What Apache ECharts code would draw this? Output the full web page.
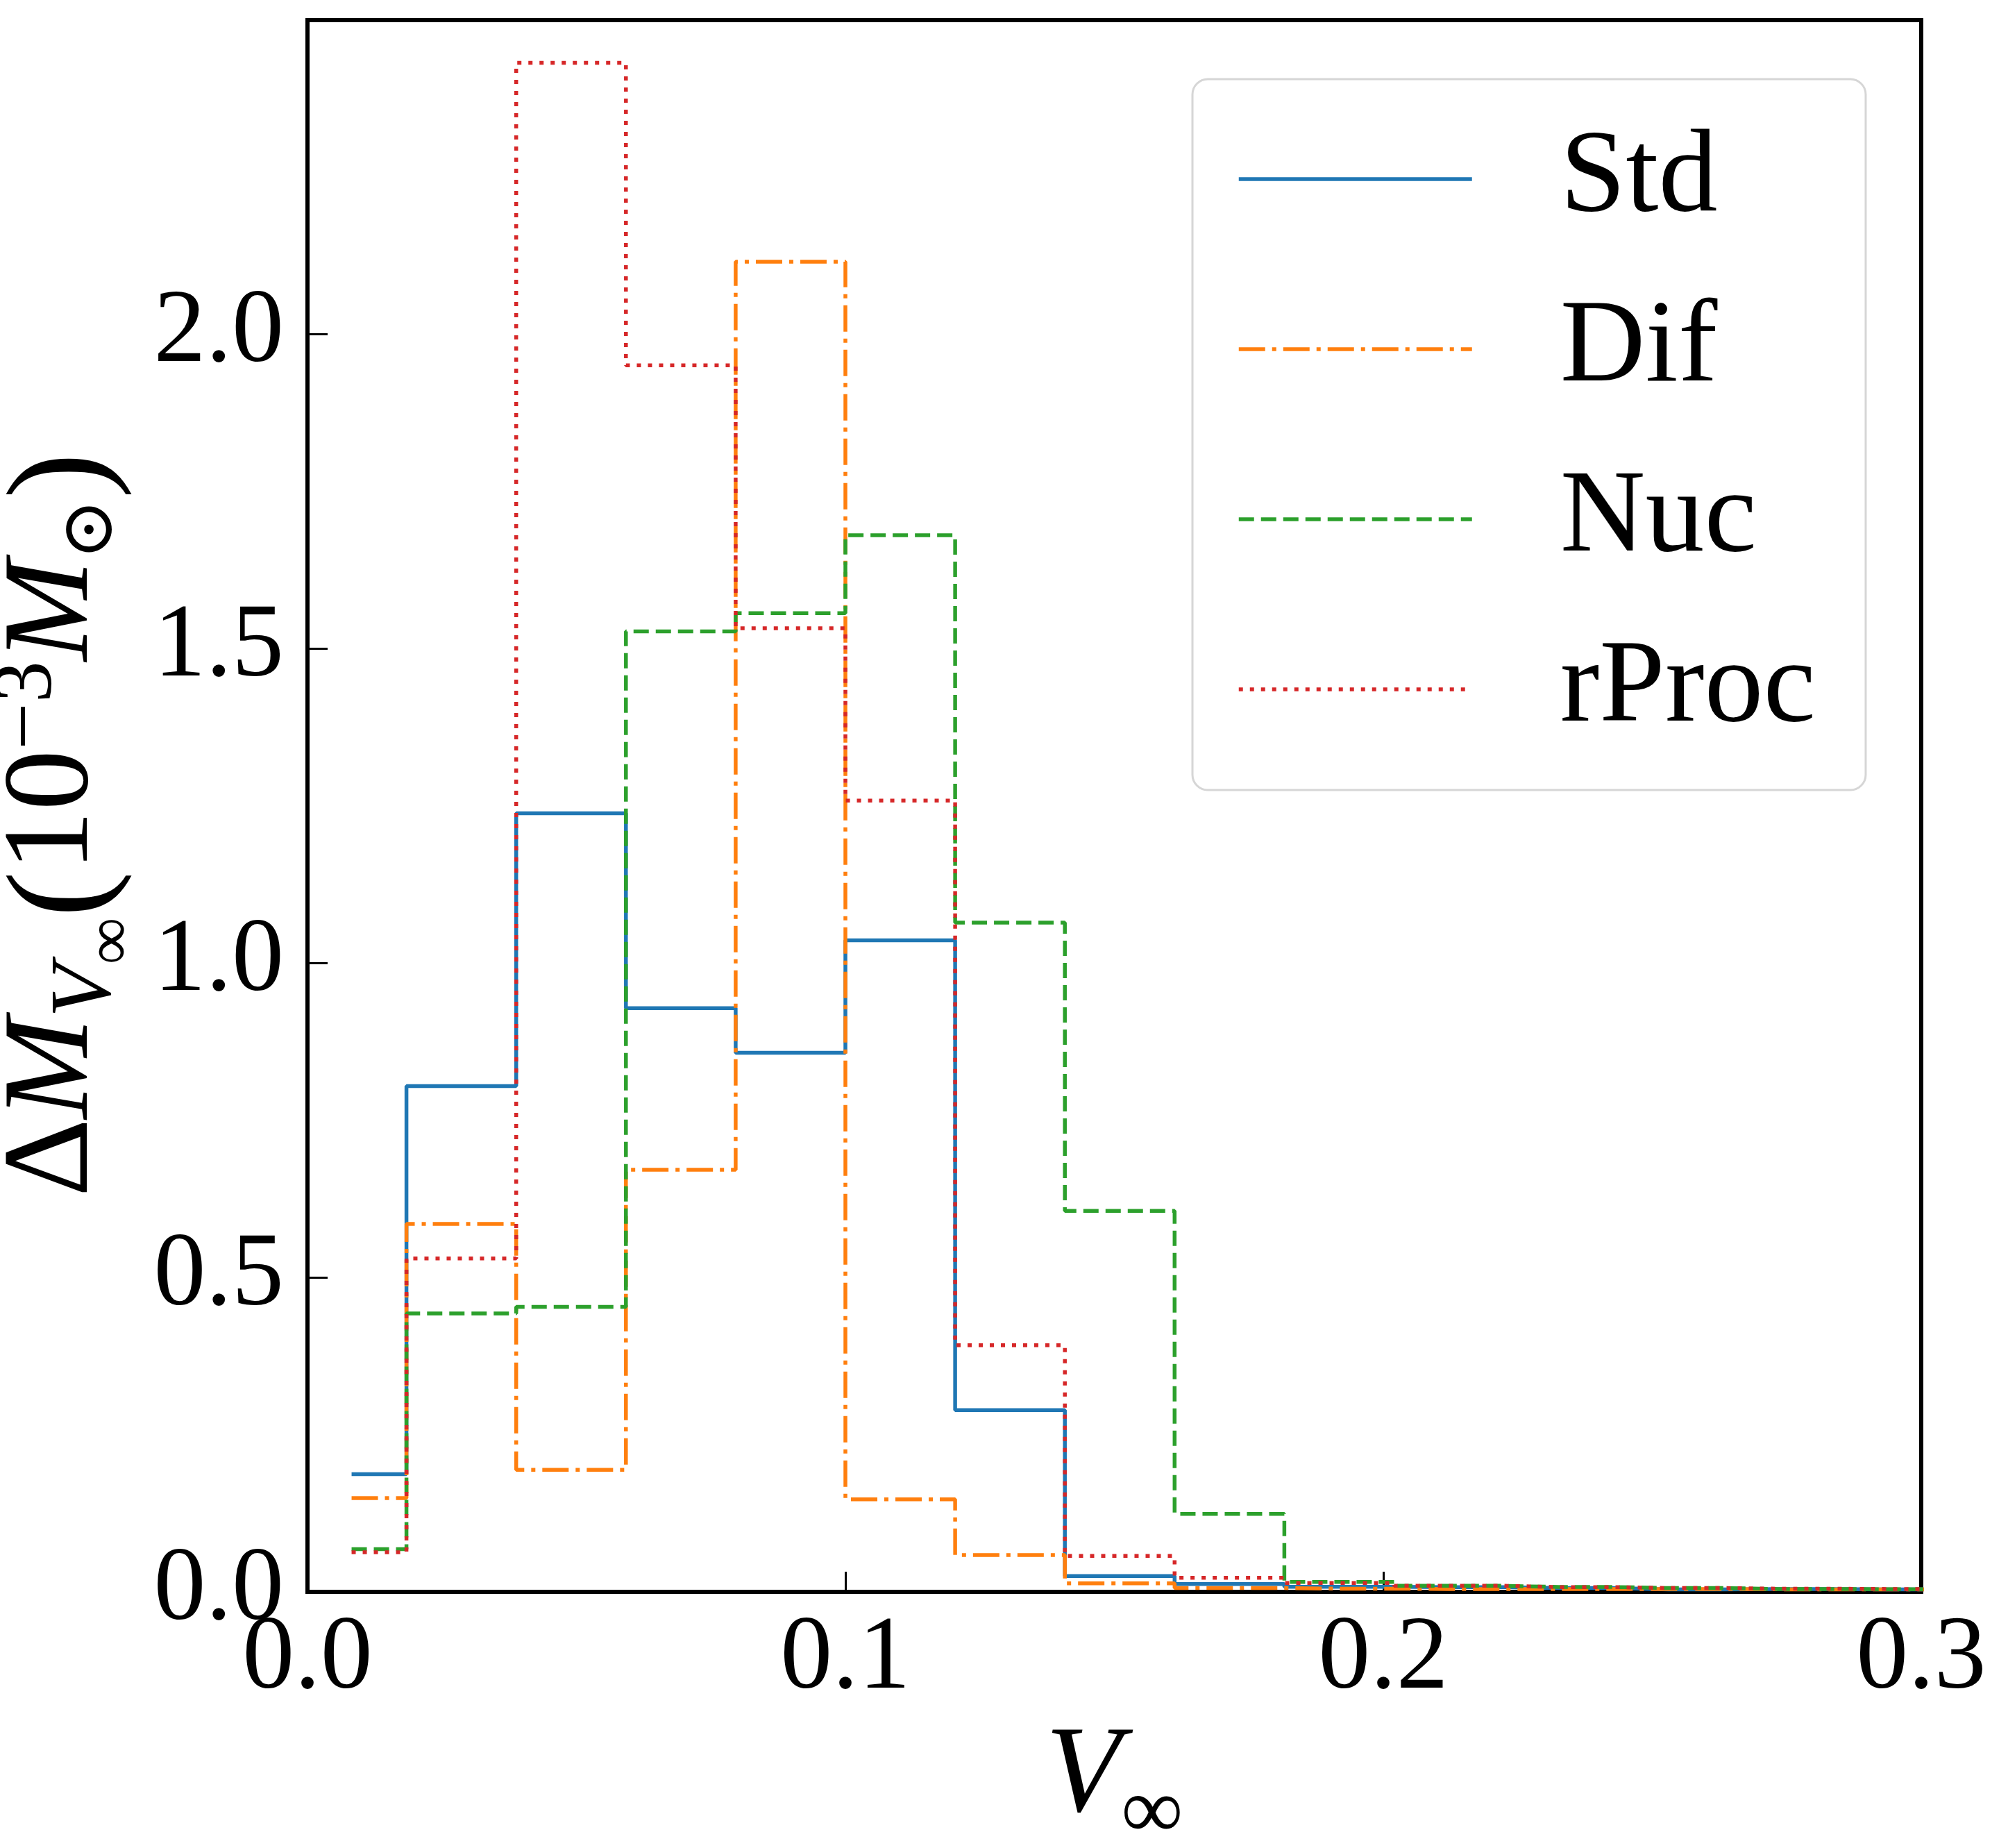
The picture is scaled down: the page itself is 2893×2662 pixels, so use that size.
<!DOCTYPE html>
<html>
<head>
<meta charset="utf-8">
<script src="https://cdn.jsdelivr.net/npm/echarts@6/dist/echarts.min.js"></script>
<style>
    html, body { margin: 0; padding: 0; background: #fff; }
    #chart { width: 2893px; height: 2662px; }
</style>
</head>
<body>
<div id="chart"></div>
<script>
// bin centres of V_inf
const vInf = [0.0082, 0.0286, 0.049, 0.0694, 0.0898, 0.1102, 0.1306, 0.151,
    0.1714, 0.1918, 0.2122, 0.2326, 0.253, 0.2734, 0.2938, 0.3142];
const seriesNames = ['Std', 'Dif', 'Nuc', 'rProc'];
const stdVals = [0.187, 0.804, 1.238, 0.928, 0.857, 1.036, 0.289, 0.025,
    0.0125, 0.008, 0.0075, 0.006, 0.004, 0.0045, 0.004, 0.003];
const difVals = [0.149, 0.585, 0.194, 0.671, 2.115, 0.147, 0.0585, 0.0136,
    0.006, 0.005, 0.0045, 0.0045, 0.0045, 0.004, 0.004, 0.003];
const nucVals = [0.068, 0.4425, 0.453, 1.527, 1.556, 1.680, 1.064, 0.6056,
    0.124, 0.0158, 0.0096, 0.0077, 0.006, 0.0045, 0.0042, 0.003];
const rprocVals = [0.063, 0.530, 2.431, 1.950, 1.532, 1.258, 0.392, 0.057,
    0.0224, 0.014, 0.0096, 0.0075, 0.006, 0.005, 0.0045, 0.003];
const xTicks = [0, 0.1, 0.2, 0.3];
const yTicks = [0, 0.5, 1.0, 1.5, 2.0];

const FONT = 'Liberation Serif';
const colors = ['#1f77b4', '#ff7f0e', '#2ca02c', '#d62728'];
// matplotlib-like dash patterns at lw ~6
const dashes = ['solid', [38, 10, 6, 10], [22, 10], [6, 10]];
const allVals = [stdVals, difVals, nucVals, rprocVals];

const chart = echarts.init(document.getElementById('chart'));

const series = seriesNames.map((name, i) => ({
    name: name,
    type: 'line',
    step: 'middle',
    symbol: 'none',
    clip: true,
    data: vInf.map((x, k) => [x, allVals[i][k]]),
    lineStyle: {
        color: colors[i],
        width: 5.5,
        type: dashes[i],
        cap: 'butt'
    },
    itemStyle: { color: colors[i] }
}));

const option = {
    animation: false,
    backgroundColor: '#fff',
    grid: {
        left: 443,
        top: 29,
        right: 125,
        bottom: 369,
        containLabel: false,
        outerBoundsMode: 'none',
        show: true,
        borderColor: '#000',
        borderWidth: 6,
        backgroundColor: 'transparent'
    },
    legend: {
        data: seriesNames,
        orient: 'vertical',
        left: 1718,
        top: 114,
        selectedMode: false,
        itemWidth: 336,
        itemHeight: 20,
        itemGap: 75,
        padding: [59, 72, 60, 64],
        backgroundColor: '#fff',
        borderColor: '#d6d6d6',
        borderWidth: 3,
        borderRadius: 22,
        lineStyle: { width: 5.5 },
        itemStyle: { opacity: 0 },
        textStyle: {
            fontFamily: FONT,
            fontSize: 170,
            color: '#000',
            padding: [0, 0, 0, 122]
        }
    },
    xAxis: {
        type: 'value',
        min: 0,
        max: 0.3,
        interval: 0.1,
        name: '{v|V}{s|∞}',
        nameLocation: 'middle',
        nameGap: 140,
        nameTextStyle: {
            rich: {
                v: { fontFamily: FONT, fontStyle: 'italic', fontSize: 178, height: 175, verticalAlign: 'top', color: '#000' },
                s: { fontFamily: FONT, fontSize: 125, height: 125, padding: [78, 0, 0, 0], verticalAlign: 'top', color: '#000' }
            }
        },
        axisLine: { show: true, lineStyle: { color: '#000', width: 6 } },
        axisTick: { show: true, inside: true, length: 29, lineStyle: { color: '#000', width: 3 } },
        axisLabel: {
            margin: 24,
            fontFamily: FONT,
            fontSize: 150,
            color: '#000',
            formatter: v => xTicks.some(t => Math.abs(t - v) < 1e-9) ? v.toFixed(1) : ''
        },
        splitLine: { show: false }
    },
    yAxis: {
        type: 'value',
        min: 0,
        max: 2.499,
        interval: 0.5,
        name: '{m|Δ}{mi|M}{s1|V}{s2|∞}{par|(}{m|10}{sup|−3}{mi|M}{sun|⊙}{pe|)}',
        nameLocation: 'middle',
        nameGap: 195,
        nameTextStyle: {
            rich: {
                m: { fontFamily: FONT, fontSize: 175, height: 175, padding: [22, 0, 0, 0], verticalAlign: 'top', color: '#000' },
                mi: { fontFamily: FONT, fontStyle: 'italic', fontSize: 175, height: 175, padding: [22, 0, 0, 0], verticalAlign: 'top', color: '#000' },
                s1: { fontFamily: FONT, fontStyle: 'italic', fontSize: 125, height: 125, padding: [93, 0, 0, 0], verticalAlign: 'top', color: '#000' },
                s2: { fontFamily: FONT, fontSize: 95, height: 95, padding: [146, 0, 0, 0], verticalAlign: 'top', color: '#000' },
                sup: { fontFamily: FONT, fontSize: 120, height: 120, padding: [12, 0, 0, 0], verticalAlign: 'top', color: '#000' },
                sun: { fontFamily: 'DejaVu Serif', fontSize: 105, height: 105, padding: [112, 0, 0, 0], verticalAlign: 'top', color: '#000' },
                par: { fontFamily: FONT, fontSize: 200, height: 200, padding: [25, 0, 0, 0], verticalAlign: 'top', color: '#000' },
                pe: { fontFamily: FONT, fontSize: 200, height: 200, padding: [25, 54, 0, 0], verticalAlign: 'top', color: '#000' }
            }
        },
        axisLine: { show: true, lineStyle: { color: '#000', width: 6 } },
        axisTick: { show: true, inside: true, length: 29, lineStyle: { color: '#000', width: 3 } },
        axisLabel: {
            margin: 34,
            fontFamily: FONT,
            fontSize: 150,
            color: '#000',
            showMaxLabel: false,
            formatter: v => yTicks.some(t => Math.abs(t - v) < 1e-9) ? v.toFixed(1) : ''
        },
        splitLine: { show: false }
    },
    series: series
};

chart.setOption(option);
</script>
</body>
</html>
